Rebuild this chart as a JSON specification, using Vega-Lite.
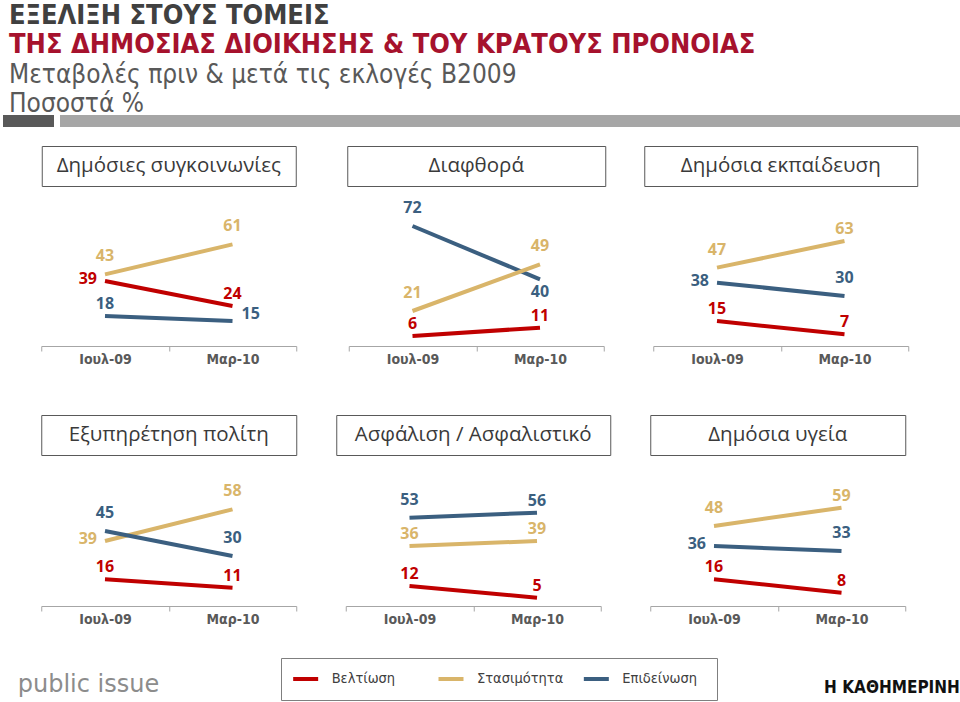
{
  "$schema": "https://vega.github.io/schema/vega-lite/v6.json",
  "padding": {"left": 3, "top": 2, "right": 0, "bottom": 0},
  "background": "white",
  "title": {"text": "ΕΞΕΛΙΞΗ ΣΤΟΥΣ ΤΟΜΕΙΣ", "anchor": "start", "font": "DejaVu Sans Condensed, sans-serif", "fontSize": 27, "fontWeight": "bold", "color": "#404040", "dx": 6, "offset": 1},
  "datasets": {
    "rows": [
      {"panel": "Δημόσιες συγκοινωνίες", "period": "Ιουλ-09", "cat": "Στασιμότητα", "value": 43, "pos": "above"},
      {"panel": "Δημόσιες συγκοινωνίες", "period": "Μαρ-10", "cat": "Στασιμότητα", "value": 61, "pos": "above"},
      {"panel": "Δημόσιες συγκοινωνίες", "period": "Ιουλ-09", "cat": "Βελτίωση", "value": 39, "pos": "left"},
      {"panel": "Δημόσιες συγκοινωνίες", "period": "Μαρ-10", "cat": "Βελτίωση", "value": 24, "pos": "near"},
      {"panel": "Δημόσιες συγκοινωνίες", "period": "Ιουλ-09", "cat": "Επιδείνωση", "value": 18, "pos": "near"},
      {"panel": "Δημόσιες συγκοινωνίες", "period": "Μαρ-10", "cat": "Επιδείνωση", "value": 15, "pos": "right"},
      {"panel": "Διαφθορά", "period": "Ιουλ-09", "cat": "Επιδείνωση", "value": 72, "pos": "above"},
      {"panel": "Διαφθορά", "period": "Μαρ-10", "cat": "Επιδείνωση", "value": 40, "pos": "below"},
      {"panel": "Διαφθορά", "period": "Ιουλ-09", "cat": "Στασιμότητα", "value": 21, "pos": "above"},
      {"panel": "Διαφθορά", "period": "Μαρ-10", "cat": "Στασιμότητα", "value": 49, "pos": "above"},
      {"panel": "Διαφθορά", "period": "Ιουλ-09", "cat": "Βελτίωση", "value": 6, "pos": "near"},
      {"panel": "Διαφθορά", "period": "Μαρ-10", "cat": "Βελτίωση", "value": 11, "pos": "near"},
      {"panel": "Δημόσια εκπαίδευση", "period": "Ιουλ-09", "cat": "Στασιμότητα", "value": 47, "pos": "above"},
      {"panel": "Δημόσια εκπαίδευση", "period": "Μαρ-10", "cat": "Στασιμότητα", "value": 63, "pos": "near"},
      {"panel": "Δημόσια εκπαίδευση", "period": "Ιουλ-09", "cat": "Επιδείνωση", "value": 38, "pos": "left"},
      {"panel": "Δημόσια εκπαίδευση", "period": "Μαρ-10", "cat": "Επιδείνωση", "value": 30, "pos": "above"},
      {"panel": "Δημόσια εκπαίδευση", "period": "Ιουλ-09", "cat": "Βελτίωση", "value": 15, "pos": "near"},
      {"panel": "Δημόσια εκπαίδευση", "period": "Μαρ-10", "cat": "Βελτίωση", "value": 7, "pos": "near"},
      {"panel": "Εξυπηρέτηση πολίτη", "period": "Ιουλ-09", "cat": "Στασιμότητα", "value": 39, "pos": "left"},
      {"panel": "Εξυπηρέτηση πολίτη", "period": "Μαρ-10", "cat": "Στασιμότητα", "value": 58, "pos": "above"},
      {"panel": "Εξυπηρέτηση πολίτη", "period": "Ιουλ-09", "cat": "Επιδείνωση", "value": 45, "pos": "above"},
      {"panel": "Εξυπηρέτηση πολίτη", "period": "Μαρ-10", "cat": "Επιδείνωση", "value": 30, "pos": "above"},
      {"panel": "Εξυπηρέτηση πολίτη", "period": "Ιουλ-09", "cat": "Βελτίωση", "value": 16, "pos": "near"},
      {"panel": "Εξυπηρέτηση πολίτη", "period": "Μαρ-10", "cat": "Βελτίωση", "value": 11, "pos": "near"},
      {"panel": "Ασφάλιση / Ασφαλιστικό", "period": "Ιουλ-09", "cat": "Επιδείνωση", "value": 53, "pos": "above"},
      {"panel": "Ασφάλιση / Ασφαλιστικό", "period": "Μαρ-10", "cat": "Επιδείνωση", "value": 56, "pos": "near"},
      {"panel": "Ασφάλιση / Ασφαλιστικό", "period": "Ιουλ-09", "cat": "Στασιμότητα", "value": 36, "pos": "near"},
      {"panel": "Ασφάλιση / Ασφαλιστικό", "period": "Μαρ-10", "cat": "Στασιμότητα", "value": 39, "pos": "near"},
      {"panel": "Ασφάλιση / Ασφαλιστικό", "period": "Ιουλ-09", "cat": "Βελτίωση", "value": 12, "pos": "near"},
      {"panel": "Ασφάλιση / Ασφαλιστικό", "period": "Μαρ-10", "cat": "Βελτίωση", "value": 5, "pos": "near"},
      {"panel": "Δημόσια υγεία", "period": "Ιουλ-09", "cat": "Στασιμότητα", "value": 48, "pos": "above"},
      {"panel": "Δημόσια υγεία", "period": "Μαρ-10", "cat": "Στασιμότητα", "value": 59, "pos": "near"},
      {"panel": "Δημόσια υγεία", "period": "Ιουλ-09", "cat": "Επιδείνωση", "value": 36, "pos": "left"},
      {"panel": "Δημόσια υγεία", "period": "Μαρ-10", "cat": "Επιδείνωση", "value": 33, "pos": "above"},
      {"panel": "Δημόσια υγεία", "period": "Ιουλ-09", "cat": "Βελτίωση", "value": 16, "pos": "near"},
      {"panel": "Δημόσια υγεία", "period": "Μαρ-10", "cat": "Βελτίωση", "value": 8, "pos": "near"}
    ]
  },
  "spacing": 18,
  "vconcat": [
    {
      "title": {"text": "ΤΗΣ ΔΗΜΟΣΙΑΣ ΔΙΟΙΚΗΣΗΣ & ΤΟΥ ΚΡΑΤΟΥΣ ΠΡΟΝΟΙΑΣ", "subtitle": ["Μεταβολές πριν & μετά τις εκλογές Β2009", "Ποσοστά %"], "anchor": "start", "dx": 6, "offset": -3, "font": "DejaVu Sans Condensed, sans-serif", "fontSize": 27, "fontWeight": "bold", "color": "#A6122D", "subtitleFont": "DejaVu Sans Condensed, sans-serif", "subtitleFontSize": 26, "subtitleFontWeight": "normal", "subtitleColor": "#595959", "subtitlePadding": 3, "subtitleLineHeight": 29},
      "spacing": 6,
      "hconcat": [
        {"width": 51, "height": 12, "view": {"fill": "#595959", "stroke": null}, "data": {"values": []}, "mark": {"type": "text"}, "encoding": {"text": {"field": "t"}}},
        {"width": 900, "height": 12, "view": {"fill": "#a6a6a6", "stroke": null}, "data": {"values": []}, "mark": {"type": "text"}, "encoding": {"text": {"field": "t"}}}
      ]
    },
    {
      "spacing": 31,
      "vconcat": [
        {
          "spacing": 48,
          "vconcat": [
            {
              "spacing": 49,
              "hconcat": [
                {
                  "spacing": 0,
                  "hconcat": [
                    {"width": 37, "height": 1, "data": {"values": []}, "mark": {"type": "text"}, "encoding": {"text": {"field": "t"}}},
                    {
                      "spacing": 9, "center": true,
                      "vconcat": [
                        {"width": 254, "height": 40, "view": {"stroke": "#595959", "strokeWidth": 1}, "data": {"values": [{"t": "Δημόσιες συγκοινωνίες"}]}, "mark": {"type": "text", "font": "Open Sans", "fontSize": 20.5, "color": "#3a3a3a"}, "encoding": {"text": {"field": "t"}}},
                        {
                          "width": 255, "height": 150,
                          "data": {"name": "rows"},
                          "transform": [{"filter": {"field": "panel", "equal": "Δημόσιες συγκοινωνίες"}}],
                          "encoding": {
                            "x": {"field": "period", "type": "nominal", "sort": ["Ιουλ-09", "Μαρ-10"], "scale": {"type": "band", "paddingInner": 0, "paddingOuter": 0}, "axis": {"title": null}},
                            "y": {"field": "value", "type": "quantitative", "scale": {"domain": [0, 90], "nice": false}, "axis": null},
                            "color": {"field": "cat", "type": "nominal", "scale": {"domain": ["Βελτίωση", "Στασιμότητα", "Επιδείνωση"], "range": ["#C00000", "#D9B56A", "#3B5F80"]}, "legend": null}
                          },
                          "layer": [
                            {"mark": {"type": "line", "strokeWidth": 4}},
                            {"transform": [{"filter": {"field": "pos", "equal": "above"}}], "mark": {"type": "text", "dy": -18, "font": "Open Sans", "fontSize": 16, "fontWeight": "bold"}, "encoding": {"text": {"field": "value"}}},
                            {"transform": [{"filter": {"field": "pos", "equal": "near"}}], "mark": {"type": "text", "dy": -12, "font": "Open Sans", "fontSize": 16, "fontWeight": "bold"}, "encoding": {"text": {"field": "value"}}},
                            {"transform": [{"filter": {"field": "pos", "equal": "left"}}], "mark": {"type": "text", "align": "right", "dx": -8, "dy": -2, "font": "Open Sans", "fontSize": 16, "fontWeight": "bold"}, "encoding": {"text": {"field": "value"}}},
                            {"transform": [{"filter": {"field": "pos", "equal": "right"}}], "mark": {"type": "text", "align": "left", "dx": 9, "dy": -7, "font": "Open Sans", "fontSize": 16, "fontWeight": "bold"}, "encoding": {"text": {"field": "value"}}},
                            {"transform": [{"filter": {"field": "pos", "equal": "below"}}], "mark": {"type": "text", "dy": 13, "font": "Open Sans", "fontSize": 16, "fontWeight": "bold"}, "encoding": {"text": {"field": "value"}}}
                          ]
                        }
                      ]
                    }
                  ]
                },
                {
                  "spacing": 37,
                  "hconcat": [
                    {
                      "spacing": 9, "center": true,
                      "vconcat": [
                        {"width": 258, "height": 40, "view": {"stroke": "#595959", "strokeWidth": 1}, "data": {"values": [{"t": "Διαφθορά"}]}, "mark": {"type": "text", "font": "Open Sans", "fontSize": 20.5, "color": "#3a3a3a"}, "encoding": {"text": {"field": "t"}}},
                        {
                          "width": 255, "height": 150,
                          "data": {"name": "rows"},
                          "transform": [{"filter": {"field": "panel", "equal": "Διαφθορά"}}],
                          "encoding": {
                            "x": {"field": "period", "type": "nominal", "sort": ["Ιουλ-09", "Μαρ-10"], "scale": {"type": "band", "paddingInner": 0, "paddingOuter": 0}, "axis": {"title": null}},
                            "y": {"field": "value", "type": "quantitative", "scale": {"domain": [0, 90], "nice": false}, "axis": null},
                            "color": {"field": "cat", "type": "nominal", "scale": {"domain": ["Βελτίωση", "Στασιμότητα", "Επιδείνωση"], "range": ["#C00000", "#D9B56A", "#3B5F80"]}, "legend": null}
                          },
                          "layer": [
                            {"mark": {"type": "line", "strokeWidth": 4}},
                            {"transform": [{"filter": {"field": "pos", "equal": "above"}}], "mark": {"type": "text", "dy": -18, "font": "Open Sans", "fontSize": 16, "fontWeight": "bold"}, "encoding": {"text": {"field": "value"}}},
                            {"transform": [{"filter": {"field": "pos", "equal": "near"}}], "mark": {"type": "text", "dy": -12, "font": "Open Sans", "fontSize": 16, "fontWeight": "bold"}, "encoding": {"text": {"field": "value"}}},
                            {"transform": [{"filter": {"field": "pos", "equal": "left"}}], "mark": {"type": "text", "align": "right", "dx": -8, "dy": -2, "font": "Open Sans", "fontSize": 16, "fontWeight": "bold"}, "encoding": {"text": {"field": "value"}}},
                            {"transform": [{"filter": {"field": "pos", "equal": "right"}}], "mark": {"type": "text", "align": "left", "dx": 9, "dy": -7, "font": "Open Sans", "fontSize": 16, "fontWeight": "bold"}, "encoding": {"text": {"field": "value"}}},
                            {"transform": [{"filter": {"field": "pos", "equal": "below"}}], "mark": {"type": "text", "dy": 13, "font": "Open Sans", "fontSize": 16, "fontWeight": "bold"}, "encoding": {"text": {"field": "value"}}}
                          ]
                        }
                      ]
                    },
                    {
                      "spacing": 9, "center": true,
                      "vconcat": [
                        {"width": 273, "height": 40, "view": {"stroke": "#595959", "strokeWidth": 1}, "data": {"values": [{"t": "Δημόσια εκπαίδευση"}]}, "mark": {"type": "text", "font": "Open Sans", "fontSize": 20.5, "color": "#3a3a3a"}, "encoding": {"text": {"field": "t"}}},
                        {
                          "width": 255, "height": 150,
                          "data": {"name": "rows"},
                          "transform": [{"filter": {"field": "panel", "equal": "Δημόσια εκπαίδευση"}}],
                          "encoding": {
                            "x": {"field": "period", "type": "nominal", "sort": ["Ιουλ-09", "Μαρ-10"], "scale": {"type": "band", "paddingInner": 0, "paddingOuter": 0}, "axis": {"title": null}},
                            "y": {"field": "value", "type": "quantitative", "scale": {"domain": [0, 90], "nice": false}, "axis": null},
                            "color": {"field": "cat", "type": "nominal", "scale": {"domain": ["Βελτίωση", "Στασιμότητα", "Επιδείνωση"], "range": ["#C00000", "#D9B56A", "#3B5F80"]}, "legend": null}
                          },
                          "layer": [
                            {"mark": {"type": "line", "strokeWidth": 4}},
                            {"transform": [{"filter": {"field": "pos", "equal": "above"}}], "mark": {"type": "text", "dy": -18, "font": "Open Sans", "fontSize": 16, "fontWeight": "bold"}, "encoding": {"text": {"field": "value"}}},
                            {"transform": [{"filter": {"field": "pos", "equal": "near"}}], "mark": {"type": "text", "dy": -12, "font": "Open Sans", "fontSize": 16, "fontWeight": "bold"}, "encoding": {"text": {"field": "value"}}},
                            {"transform": [{"filter": {"field": "pos", "equal": "left"}}], "mark": {"type": "text", "align": "right", "dx": -8, "dy": -2, "font": "Open Sans", "fontSize": 16, "fontWeight": "bold"}, "encoding": {"text": {"field": "value"}}},
                            {"transform": [{"filter": {"field": "pos", "equal": "right"}}], "mark": {"type": "text", "align": "left", "dx": 9, "dy": -7, "font": "Open Sans", "fontSize": 16, "fontWeight": "bold"}, "encoding": {"text": {"field": "value"}}},
                            {"transform": [{"filter": {"field": "pos", "equal": "below"}}], "mark": {"type": "text", "dy": 13, "font": "Open Sans", "fontSize": 16, "fontWeight": "bold"}, "encoding": {"text": {"field": "value"}}}
                          ]
                        }
                      ]
                    }
                  ]
                }
              ]
            },
            {
              "spacing": 38,
              "hconcat": [
                {
                  "spacing": 0,
                  "hconcat": [
                    {"width": 37, "height": 1, "data": {"values": []}, "mark": {"type": "text"}, "encoding": {"text": {"field": "t"}}},
                    {
                      "spacing": 0, "center": true,
                      "vconcat": [
                        {"width": 255, "height": 40, "view": {"stroke": "#595959", "strokeWidth": 1}, "data": {"values": [{"t": "Εξυπηρέτηση πολίτη"}]}, "mark": {"type": "text", "font": "Open Sans", "fontSize": 20.5, "color": "#3a3a3a"}, "encoding": {"text": {"field": "t"}}},
                        {
                          "width": 255, "height": 150,
                          "data": {"name": "rows"},
                          "transform": [{"filter": {"field": "panel", "equal": "Εξυπηρέτηση πολίτη"}}],
                          "encoding": {
                            "x": {"field": "period", "type": "nominal", "sort": ["Ιουλ-09", "Μαρ-10"], "scale": {"type": "band", "paddingInner": 0, "paddingOuter": 0}, "axis": {"title": null}},
                            "y": {"field": "value", "type": "quantitative", "scale": {"domain": [0, 90], "nice": false}, "axis": null},
                            "color": {"field": "cat", "type": "nominal", "scale": {"domain": ["Βελτίωση", "Στασιμότητα", "Επιδείνωση"], "range": ["#C00000", "#D9B56A", "#3B5F80"]}, "legend": null}
                          },
                          "layer": [
                            {"mark": {"type": "line", "strokeWidth": 4}},
                            {"transform": [{"filter": {"field": "pos", "equal": "above"}}], "mark": {"type": "text", "dy": -18, "font": "Open Sans", "fontSize": 16, "fontWeight": "bold"}, "encoding": {"text": {"field": "value"}}},
                            {"transform": [{"filter": {"field": "pos", "equal": "near"}}], "mark": {"type": "text", "dy": -12, "font": "Open Sans", "fontSize": 16, "fontWeight": "bold"}, "encoding": {"text": {"field": "value"}}},
                            {"transform": [{"filter": {"field": "pos", "equal": "left"}}], "mark": {"type": "text", "align": "right", "dx": -8, "dy": -2, "font": "Open Sans", "fontSize": 16, "fontWeight": "bold"}, "encoding": {"text": {"field": "value"}}},
                            {"transform": [{"filter": {"field": "pos", "equal": "right"}}], "mark": {"type": "text", "align": "left", "dx": 9, "dy": -7, "font": "Open Sans", "fontSize": 16, "fontWeight": "bold"}, "encoding": {"text": {"field": "value"}}},
                            {"transform": [{"filter": {"field": "pos", "equal": "below"}}], "mark": {"type": "text", "dy": 13, "font": "Open Sans", "fontSize": 16, "fontWeight": "bold"}, "encoding": {"text": {"field": "value"}}}
                          ]
                        }
                      ]
                    }
                  ]
                },
                {
                  "spacing": 0, "center": true,
                  "vconcat": [
                    {"width": 274, "height": 40, "view": {"stroke": "#595959", "strokeWidth": 1}, "data": {"values": [{"t": "Ασφάλιση / Ασφαλιστικό"}]}, "mark": {"type": "text", "font": "Open Sans", "fontSize": 20.5, "color": "#3a3a3a"}, "encoding": {"text": {"field": "t"}}},
                    {
                      "width": 255, "height": 150,
                      "data": {"name": "rows"},
                      "transform": [{"filter": {"field": "panel", "equal": "Ασφάλιση / Ασφαλιστικό"}}],
                      "encoding": {
                        "x": {"field": "period", "type": "nominal", "sort": ["Ιουλ-09", "Μαρ-10"], "scale": {"type": "band", "paddingInner": 0, "paddingOuter": 0}, "axis": {"title": null}},
                        "y": {"field": "value", "type": "quantitative", "scale": {"domain": [0, 90], "nice": false}, "axis": null},
                        "color": {"field": "cat", "type": "nominal", "scale": {"domain": ["Βελτίωση", "Στασιμότητα", "Επιδείνωση"], "range": ["#C00000", "#D9B56A", "#3B5F80"]}, "legend": null}
                      },
                      "layer": [
                        {"mark": {"type": "line", "strokeWidth": 4}},
                        {"transform": [{"filter": {"field": "pos", "equal": "above"}}], "mark": {"type": "text", "dy": -18, "font": "Open Sans", "fontSize": 16, "fontWeight": "bold"}, "encoding": {"text": {"field": "value"}}},
                        {"transform": [{"filter": {"field": "pos", "equal": "near"}}], "mark": {"type": "text", "dy": -12, "font": "Open Sans", "fontSize": 16, "fontWeight": "bold"}, "encoding": {"text": {"field": "value"}}},
                        {"transform": [{"filter": {"field": "pos", "equal": "left"}}], "mark": {"type": "text", "align": "right", "dx": -8, "dy": -2, "font": "Open Sans", "fontSize": 16, "fontWeight": "bold"}, "encoding": {"text": {"field": "value"}}},
                        {"transform": [{"filter": {"field": "pos", "equal": "right"}}], "mark": {"type": "text", "align": "left", "dx": 9, "dy": -7, "font": "Open Sans", "fontSize": 16, "fontWeight": "bold"}, "encoding": {"text": {"field": "value"}}},
                        {"transform": [{"filter": {"field": "pos", "equal": "below"}}], "mark": {"type": "text", "dy": 13, "font": "Open Sans", "fontSize": 16, "fontWeight": "bold"}, "encoding": {"text": {"field": "value"}}}
                      ]
                    }
                  ]
                },
                {
                  "spacing": 0, "center": true,
                  "vconcat": [
                    {"width": 255, "height": 40, "view": {"stroke": "#595959", "strokeWidth": 1}, "data": {"values": [{"t": "Δημόσια υγεία"}]}, "mark": {"type": "text", "font": "Open Sans", "fontSize": 20.5, "color": "#3a3a3a"}, "encoding": {"text": {"field": "t"}}},
                    {
                      "width": 255, "height": 150,
                      "data": {"name": "rows"},
                      "transform": [{"filter": {"field": "panel", "equal": "Δημόσια υγεία"}}],
                      "encoding": {
                        "x": {"field": "period", "type": "nominal", "sort": ["Ιουλ-09", "Μαρ-10"], "scale": {"type": "band", "paddingInner": 0, "paddingOuter": 0}, "axis": {"title": null}},
                        "y": {"field": "value", "type": "quantitative", "scale": {"domain": [0, 90], "nice": false}, "axis": null},
                        "color": {"field": "cat", "type": "nominal", "scale": {"domain": ["Βελτίωση", "Στασιμότητα", "Επιδείνωση"], "range": ["#C00000", "#D9B56A", "#3B5F80"]}, "legend": null}
                      },
                      "layer": [
                        {"mark": {"type": "line", "strokeWidth": 4}},
                        {"transform": [{"filter": {"field": "pos", "equal": "above"}}], "mark": {"type": "text", "dy": -18, "font": "Open Sans", "fontSize": 16, "fontWeight": "bold"}, "encoding": {"text": {"field": "value"}}},
                        {"transform": [{"filter": {"field": "pos", "equal": "near"}}], "mark": {"type": "text", "dy": -12, "font": "Open Sans", "fontSize": 16, "fontWeight": "bold"}, "encoding": {"text": {"field": "value"}}},
                        {"transform": [{"filter": {"field": "pos", "equal": "left"}}], "mark": {"type": "text", "align": "right", "dx": -8, "dy": -2, "font": "Open Sans", "fontSize": 16, "fontWeight": "bold"}, "encoding": {"text": {"field": "value"}}},
                        {"transform": [{"filter": {"field": "pos", "equal": "right"}}], "mark": {"type": "text", "align": "left", "dx": 9, "dy": -7, "font": "Open Sans", "fontSize": 16, "fontWeight": "bold"}, "encoding": {"text": {"field": "value"}}},
                        {"transform": [{"filter": {"field": "pos", "equal": "below"}}], "mark": {"type": "text", "dy": 13, "font": "Open Sans", "fontSize": 16, "fontWeight": "bold"}, "encoding": {"text": {"field": "value"}}}
                      ]
                    }
                  ]
                }
              ]
            }
          ]
        },
        {
          "spacing": 106,
          "hconcat": [
            {"width": 171, "height": 42, "data": {"values": [{"t": "public issue"}]}, "mark": {"type": "text", "font": "DejaVu Sans", "fontSize": 24, "color": "#8c8c8c", "dy": 6}, "encoding": {"text": {"field": "t"}}},
            {
              "width": 436, "height": 42,
              "view": {"stroke": "#7f7f7f", "strokeWidth": 1},
              "data": {"values": [{"cat": "Βελτίωση"}, {"cat": "Στασιμότητα"}, {"cat": "Επιδείνωση"}]},
              "encoding": {
                "x": {"field": "cat", "type": "nominal", "sort": null, "scale": {"type": "band", "paddingInner": 0, "paddingOuter": 0}, "axis": null},
                "color": {"field": "cat", "type": "nominal", "scale": {"domain": ["Βελτίωση", "Στασιμότητα", "Επιδείνωση"], "range": ["#C00000", "#D9B56A", "#3B5F80"]}, "legend": null}
              },
              "layer": [
                {"mark": {"type": "point", "shape": "M-1,0L1,0", "size": 625, "strokeWidth": 4, "filled": false, "opacity": 1, "xOffset": -48}},
                {"mark": {"type": "text", "align": "left", "dx": -22, "font": "DejaVu Sans Condensed", "fontSize": 14.5, "color": "#404040"}, "encoding": {"text": {"field": "cat"}, "color": {"value": "#404040"}}}
              ]
            },
            {"width": 136, "height": 42, "data": {"values": [{"t": "Η ΚΑΘΗΜΕΡΙΝΗ"}]}, "mark": {"type": "text", "font": "DejaVu Sans Condensed, sans-serif", "fontSize": 17, "fontWeight": "bold", "color": "#111111", "dy": 9}, "encoding": {"text": {"field": "t"}}}
          ]
        }
      ]
    }
  ],
  "config": {
    "view": {"stroke": null},
    "axisX": {"tickBand": "extent", "domainColor": "#a6a6a6", "tickColor": "#a6a6a6", "tickSize": 5, "labelFont": "DejaVu Sans Condensed, sans-serif", "labelFontSize": 14, "labelFontWeight": "bold", "labelColor": "#595959", "labelPadding": 1, "labelAngle": 0, "grid": false}
  }
}
